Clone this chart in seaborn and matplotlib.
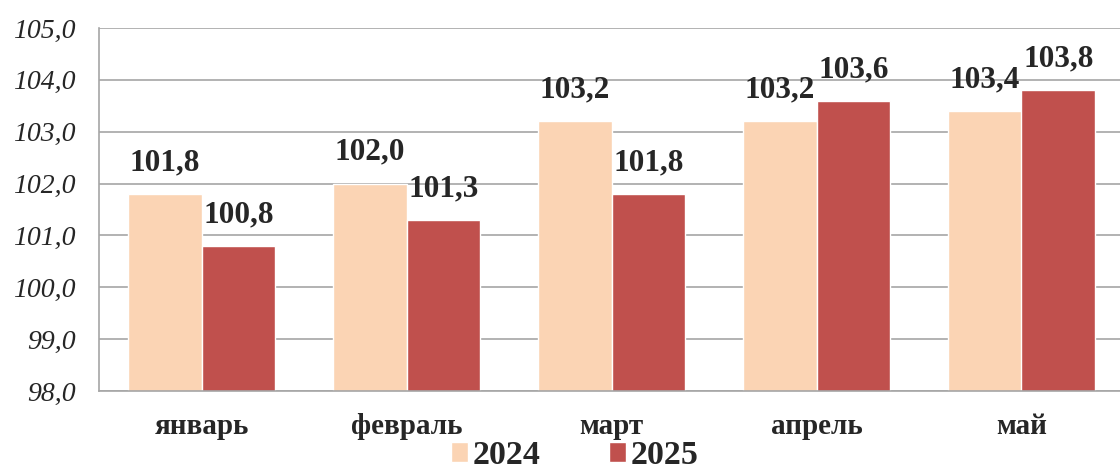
import pandas as pd
import matplotlib
matplotlib.use("Agg")
import matplotlib.pyplot as plt
import seaborn as sns

# Data
months = ["январь", "февраль", "март", "апрель", "май"]
values_2024 = [101.8, 102.0, 103.2, 103.2, 103.4]
values_2025 = [100.8, 101.3, 101.8, 103.6, 103.8]
years = ["2024", "2025"]
y_ticks = [98, 99, 100, 101, 102, 103, 104, 105]

df = pd.DataFrame({
    "month": months * 2,
    "value": values_2024 + values_2025,
    "year": [years[0]] * len(months) + [years[1]] * len(months),
})

sns.set_style("white")
plt.rcParams["font.family"] = ["Liberation Serif", "DejaVu Serif"]

fig = plt.figure(figsize=(11.2, 4.72), dpi=100)
ax = fig.add_axes([99 / 1120, 81 / 472, 1025 / 1120, 363 / 472])

palette = {"2024": "#FBD4B4", "2025": "#C0504D"}
sns.barplot(data=df, x="month", y="value", hue="year", palette=palette,
            width=0.72, saturation=1, ax=ax, legend=True)

ax.set_ylim(98, 105)
ax.set_xlim(-0.5, 4.5)
ax.set_yticks(y_ticks)
ax.set_yticklabels([f"{t:.1f}".replace(".", ",") for t in y_ticks],
                   fontsize=20, fontstyle="italic")
ax.tick_params(axis="y", length=0, pad=17)
ax.tick_params(axis="x", length=0, pad=16, labelsize=21)
for lbl in ax.get_xticklabels():
    lbl.set_fontweight("bold")
ax.set_xlabel("")
ax.set_ylabel("")

ax.grid(axis="y", color="#A6A6A6", linewidth=1.2)
ax.set_axisbelow(True)
for side in ["top", "right"]:
    ax.spines[side].set_visible(False)
for side in ["left", "bottom"]:
    ax.spines[side].set_color("#A6A6A6")
    ax.spines[side].set_linewidth(1.2)

# value labels
for cont, vals in zip(ax.containers, [values_2024, values_2025]):
    ax.bar_label(cont, labels=[f"{v:.1f}".replace(".", ",") for v in vals],
                 padding=12, fontsize=22.5, fontweight="bold", clip_on=False)

handles, labels = ax.get_legend_handles_labels()
ax.get_legend().remove()
fig.legend(handles, labels, loc="lower center", bbox_to_anchor=(0.513, 0.002),
           ncol=2, frameon=False, prop={"size": 24.5, "weight": "bold"},
           handlelength=0.5, handleheight=0.5, handletextpad=0.15,
           columnspacing=2.0, borderaxespad=0, borderpad=0)

fig.savefig("out.png", dpi=100)
